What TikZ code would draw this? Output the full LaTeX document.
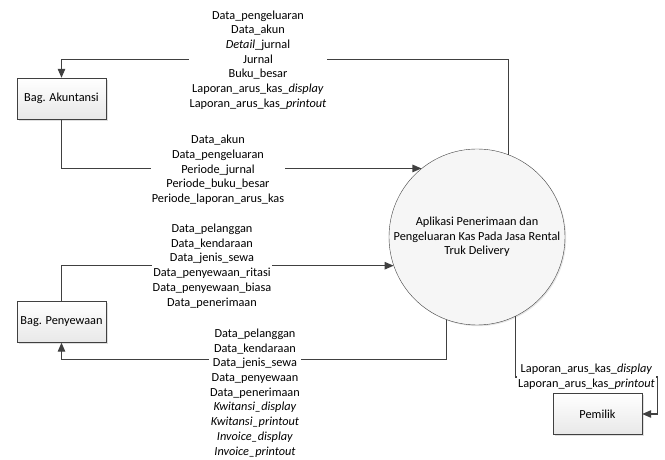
\documentclass[tikz,border=0pt]{standalone}
\usepackage{fontspec}
\setmainfont{Carlito}
\usepackage{tikz}
\usetikzlibrary{arrows.meta,calc,shadows}
\definecolor{lineink}{RGB}{64,64,64}
\definecolor{boxfill}{RGB}{242,242,242}

\tikzset{
    entity/.style={draw=lineink, top color=white, bottom color=black!9,
        minimum width=89pt, minimum height=41pt, inner sep=2pt,
        drop shadow={opacity=0.25, shadow xshift=1.8pt, shadow yshift=-1.8pt}},
    process/.style={circle, draw=lineink, fill=boxfill!70!white, minimum size=176pt,
        align=center, inner sep=0pt, drop shadow={opacity=0.2, shadow xshift=1.2pt, shadow yshift=-1.2pt}},
    flow/.style={draw=lineink, line width=1.1pt, -{Triangle[length=9pt,width=7.5pt]}},
    lbl/.style={fill=white, align=center, inner sep=1pt}
}

\begin{document}
\begin{tikzpicture}[x=1pt, y=1pt, font=\fontsize{12.3}{14.7}\selectfont]
    \useasboundingbox (0,0) rectangle (665,460);

    % Entities
    \node[entity] (akun) at (61.5,361.5) {Bag. Akuntansi};
    \node[entity] (sewa) at (61.5,138) {Bag. Penyewaan};
    \node[entity] (pemilik) at (597.5,46) {Pemilik};

    % Process
    \node[process] (app) at (477,223) {Aplikasi Penerimaan dan\\Pengeluaran Kas Pada Jasa Rental\\Truk Delivery};

    % Flows
    \draw[flow] (app.69.4) |- ($(akun.north)+(0,18)$) -- (akun.north);
    \draw[flow] (akun.south) |- (app.129.4);
    \draw[flow] (sewa.north) |- (app.199.2);
    \draw[flow] (app.250.8) |- ($(sewa.south)+(0,-17)$) -- (sewa.south);
    \draw[flow] (app.296.3) |- ($(pemilik.east)+(15,37)$) |- (pemilik.east);

    % Flow labels
    \node[lbl] (lblakunout) at (258,400) {Data\_pengeluaran\\Data\_akun\\\textit{Detail}\_jurnal\\Jurnal\\Buku\_besar\\Laporan\_arus\_kas\_\textit{display}\\Laporan\_arus\_kas\_\textit{printout}};
    \node[lbl] (lblakunin) at (218,290) {Data\_akun\\Data\_pengeluaran\\Periode\_jurnal\\Periode\_buku\_besar\\Periode\_laporan\_arus\_kas};
    \node[lbl] (lblsewain) at (212,194) {Data\_pelanggan\\Data\_kendaraan\\Data\_jenis\_sewa\\Data\_penyewaan\_ritasi\\Data\_penyewaan\_biasa\\Data\_penerimaan};
    \node[lbl] (lblsewaout) at (255,67) {Data\_pelanggan\\Data\_kendaraan\\Data\_jenis\_sewa\\Data\_penyewaan\\Data\_penerimaan\\\textit{Kwitansi\_display}\\\textit{Kwitansi\_printout}\\\textit{Invoice\_display}\\\textit{Invoice\_printout}};
    \node[lbl] (lblpemilik) at (586.5,83) {Laporan\_arus\_kas\_\textit{display}\\Laporan\_arus\_kas\_\textit{printout}};
\end{tikzpicture}
\end{document}
